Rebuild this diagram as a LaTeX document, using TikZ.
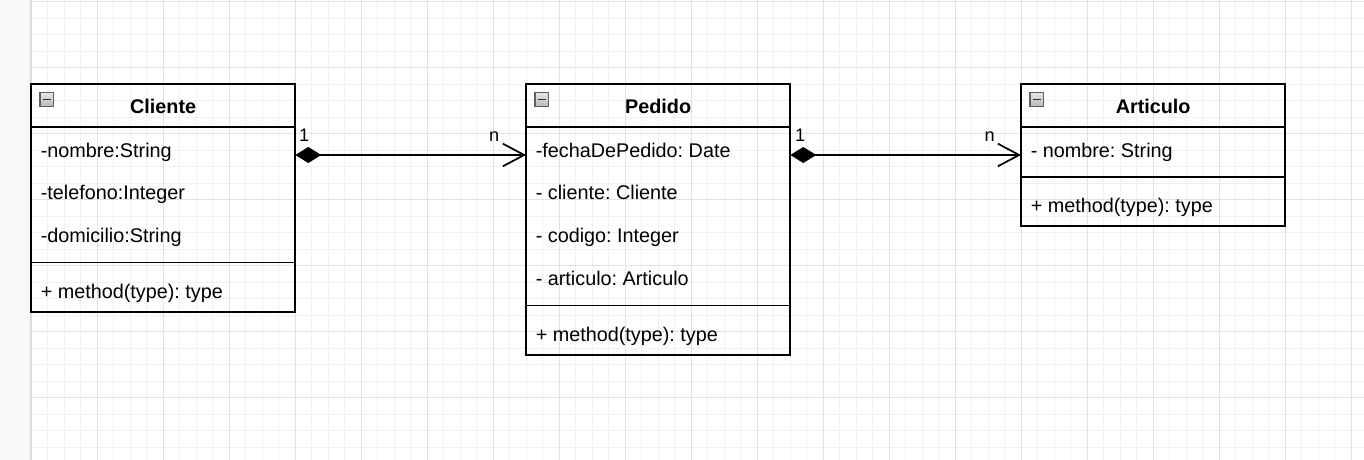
\documentclass[tikz,border=0pt]{standalone}
\usepackage{fontspec}
\setmainfont{Liberation Sans}
\frenchspacing
\usetikzlibrary{arrows,arrows.meta,calc}
\definecolor{gridminor}{HTML}{F1F1F1}
\definecolor{gridmajor}{HTML}{E2E2E2}
\definecolor{stripfill}{HTML}{F7F8F9}
\definecolor{stripline}{HTML}{DADCE0}
\tikzset{
  umlbox/.style={draw=black,line width=1.3pt,inner sep=0pt,outer sep=0pt,anchor=north west,minimum width=264.3*0.75pt},
  umlline/.style={draw=black,line width=1.3pt},
  umlhead/.style={font=\fontsize{14.85}{17}\selectfont\bfseries,inner sep=0pt,anchor=base},
  umlattr/.style={font=\fontsize{14.85}{17}\selectfont,inner sep=0pt,anchor=base west},
  umlmult/.style={font=\fontsize{13.6}{16}\selectfont,inner sep=0pt,anchor=base west},
  umlicon/.style={top color=gray!20,bottom color=gray!55,draw=gray!75!black,line width=0.8pt},
  composicion/.style={line width=1.3pt,{Diamond[length=19.5pt,width=12pt]}-{Straight Barb[length=16pt,width=17pt]}}
}
\begin{document}
\begin{tikzpicture}[x=0.75pt,y=-0.75pt]
\useasboundingbox (0,0) rectangle (1364,460);
\fill[white] (0,0) rectangle (1364,460);

\foreach \i in {0,...,81} \draw[gridminor,line width=0.75pt] ({31+16.5*\i},0) -- ({31+16.5*\i},460);
\foreach \j in {0,...,27} \draw[gridminor,line width=0.75pt] (31,{1.7+16.5*\j}) -- (1364,{1.7+16.5*\j});
\foreach \i in {0,...,20} \draw[gridmajor,line width=0.75pt] ({31+66*\i},0) -- ({31+66*\i},460);
\foreach \j in {0,...,6} \draw[gridmajor,line width=0.75pt] (31,{1.7+66*\j}) -- (1364,{1.7+66*\j});
\fill[stripfill] (0,0) rectangle (31,460);
\draw[stripline,line width=1.5pt] (31,0) -- (31,460);

\node[umlbox,minimum height=227.7*0.75pt] (cliente) at (31,84.3) {};
\node[umlbox,minimum height=270.6*0.75pt] (pedido) at (526,84.3) {};
\node[umlbox,minimum height=141.9*0.75pt] (articulo) at (1021,84.3) {};

\draw[umlline] ($(cliente.north west)+(0,42.9)$) -- ($(cliente.north east)+(0,42.9)$);
\draw[umlline] ($(cliente.north west)+(0,178.2)$) -- ($(cliente.north east)+(0,178.2)$);
\draw[umlline] ($(pedido.north west)+(0,42.9)$) -- ($(pedido.north east)+(0,42.9)$);
\draw[umlline] ($(pedido.north west)+(0,221.1)$) -- ($(pedido.north east)+(0,221.1)$);
\draw[umlline] ($(articulo.north west)+(0,42.9)$) -- ($(articulo.north east)+(0,42.9)$);
\draw[umlline] ($(articulo.north west)+(0,92.4)$) -- ($(articulo.north east)+(0,92.4)$);

\shade[umlicon] ($(cliente.north west)+(9,8.5)$) rectangle +(13.5,13.5);
\draw[line width=1.4pt,black!80] ($(cliente.north west)+(12,15.2)$) -- +(7.5,0);
\shade[umlicon] ($(pedido.north west)+(9,8.5)$) rectangle +(13.5,13.5);
\draw[line width=1.4pt,black!80] ($(pedido.north west)+(12,15.2)$) -- +(7.5,0);
\shade[umlicon] ($(articulo.north west)+(9,8.5)$) rectangle +(13.5,13.5);
\draw[line width=1.4pt,black!80] ($(articulo.north west)+(12,15.2)$) -- +(7.5,0);

\node[umlhead] (tcliente) at ($(cliente.north)+(0,29)$) {Cliente};
\node[umlhead] (tpedido) at ($(pedido.north)+(0,29)$) {Pedido};
\node[umlhead] (tarticulo) at ($(articulo.north)+(0,29)$) {Articulo};

\node[umlattr] (cnombre) at ($(cliente.north west)+(9.5,72.7)$) {-nombre:String};
\node[umlattr] (ctelefono) at ($(cliente.north west)+(9.5,115.6)$) {-telefono:Integer};
\node[umlattr] (cdomicilio) at ($(cliente.north west)+(9.5,158.5)$) {-domicilio:String};
\node[umlattr] (cmethod) at ($(cliente.north west)+(9.5,213.8)$) {+ method(type): type};

\node[umlattr] (pfecha) at ($(pedido.north west)+(9.5,72.7)$) {-fechaDePedido: Date};
\node[umlattr] (pcliente) at ($(pedido.north west)+(9.5,115.6)$) {- cliente: Cliente};
\node[umlattr] (pcodigo) at ($(pedido.north west)+(9.5,158.5)$) {- codigo: Integer};
\node[umlattr] (particulo) at ($(pedido.north west)+(9.5,201.4)$) {- articulo: Articulo};
\node[umlattr] (pmethod) at ($(pedido.north west)+(9.5,256.7)$) {+ method(type): type};

\node[umlattr] (anombre) at ($(articulo.north west)+(9.5,72.7)$) {- nombre: String};
\node[umlattr] (amethod) at ($(articulo.north west)+(9.5,128)$) {+ method(type): type};

\coordinate (c1) at ($(cliente.north east)+(0,70.7)$);
\coordinate (p1) at ($(pedido.north west)+(0,70.7)$);
\coordinate (p2) at ($(pedido.north east)+(0,70.7)$);
\coordinate (a1) at ($(articulo.north west)+(0,70.7)$);

\draw[composicion] (c1) -- (p1);
\draw[composicion] (p2) -- (a1);

\node[umlmult] (m1) at ($(c1)+(3.5,-13)$) {1};
\node[umlmult,anchor=base east] (m2) at ($(p1)+(-26.5,-13)$) {n};
\node[umlmult] (m3) at ($(p2)+(4.5,-13)$) {1};
\node[umlmult,anchor=base east] (m4) at ($(a1)+(-26,-13)$) {n};

\end{tikzpicture}
\end{document}
